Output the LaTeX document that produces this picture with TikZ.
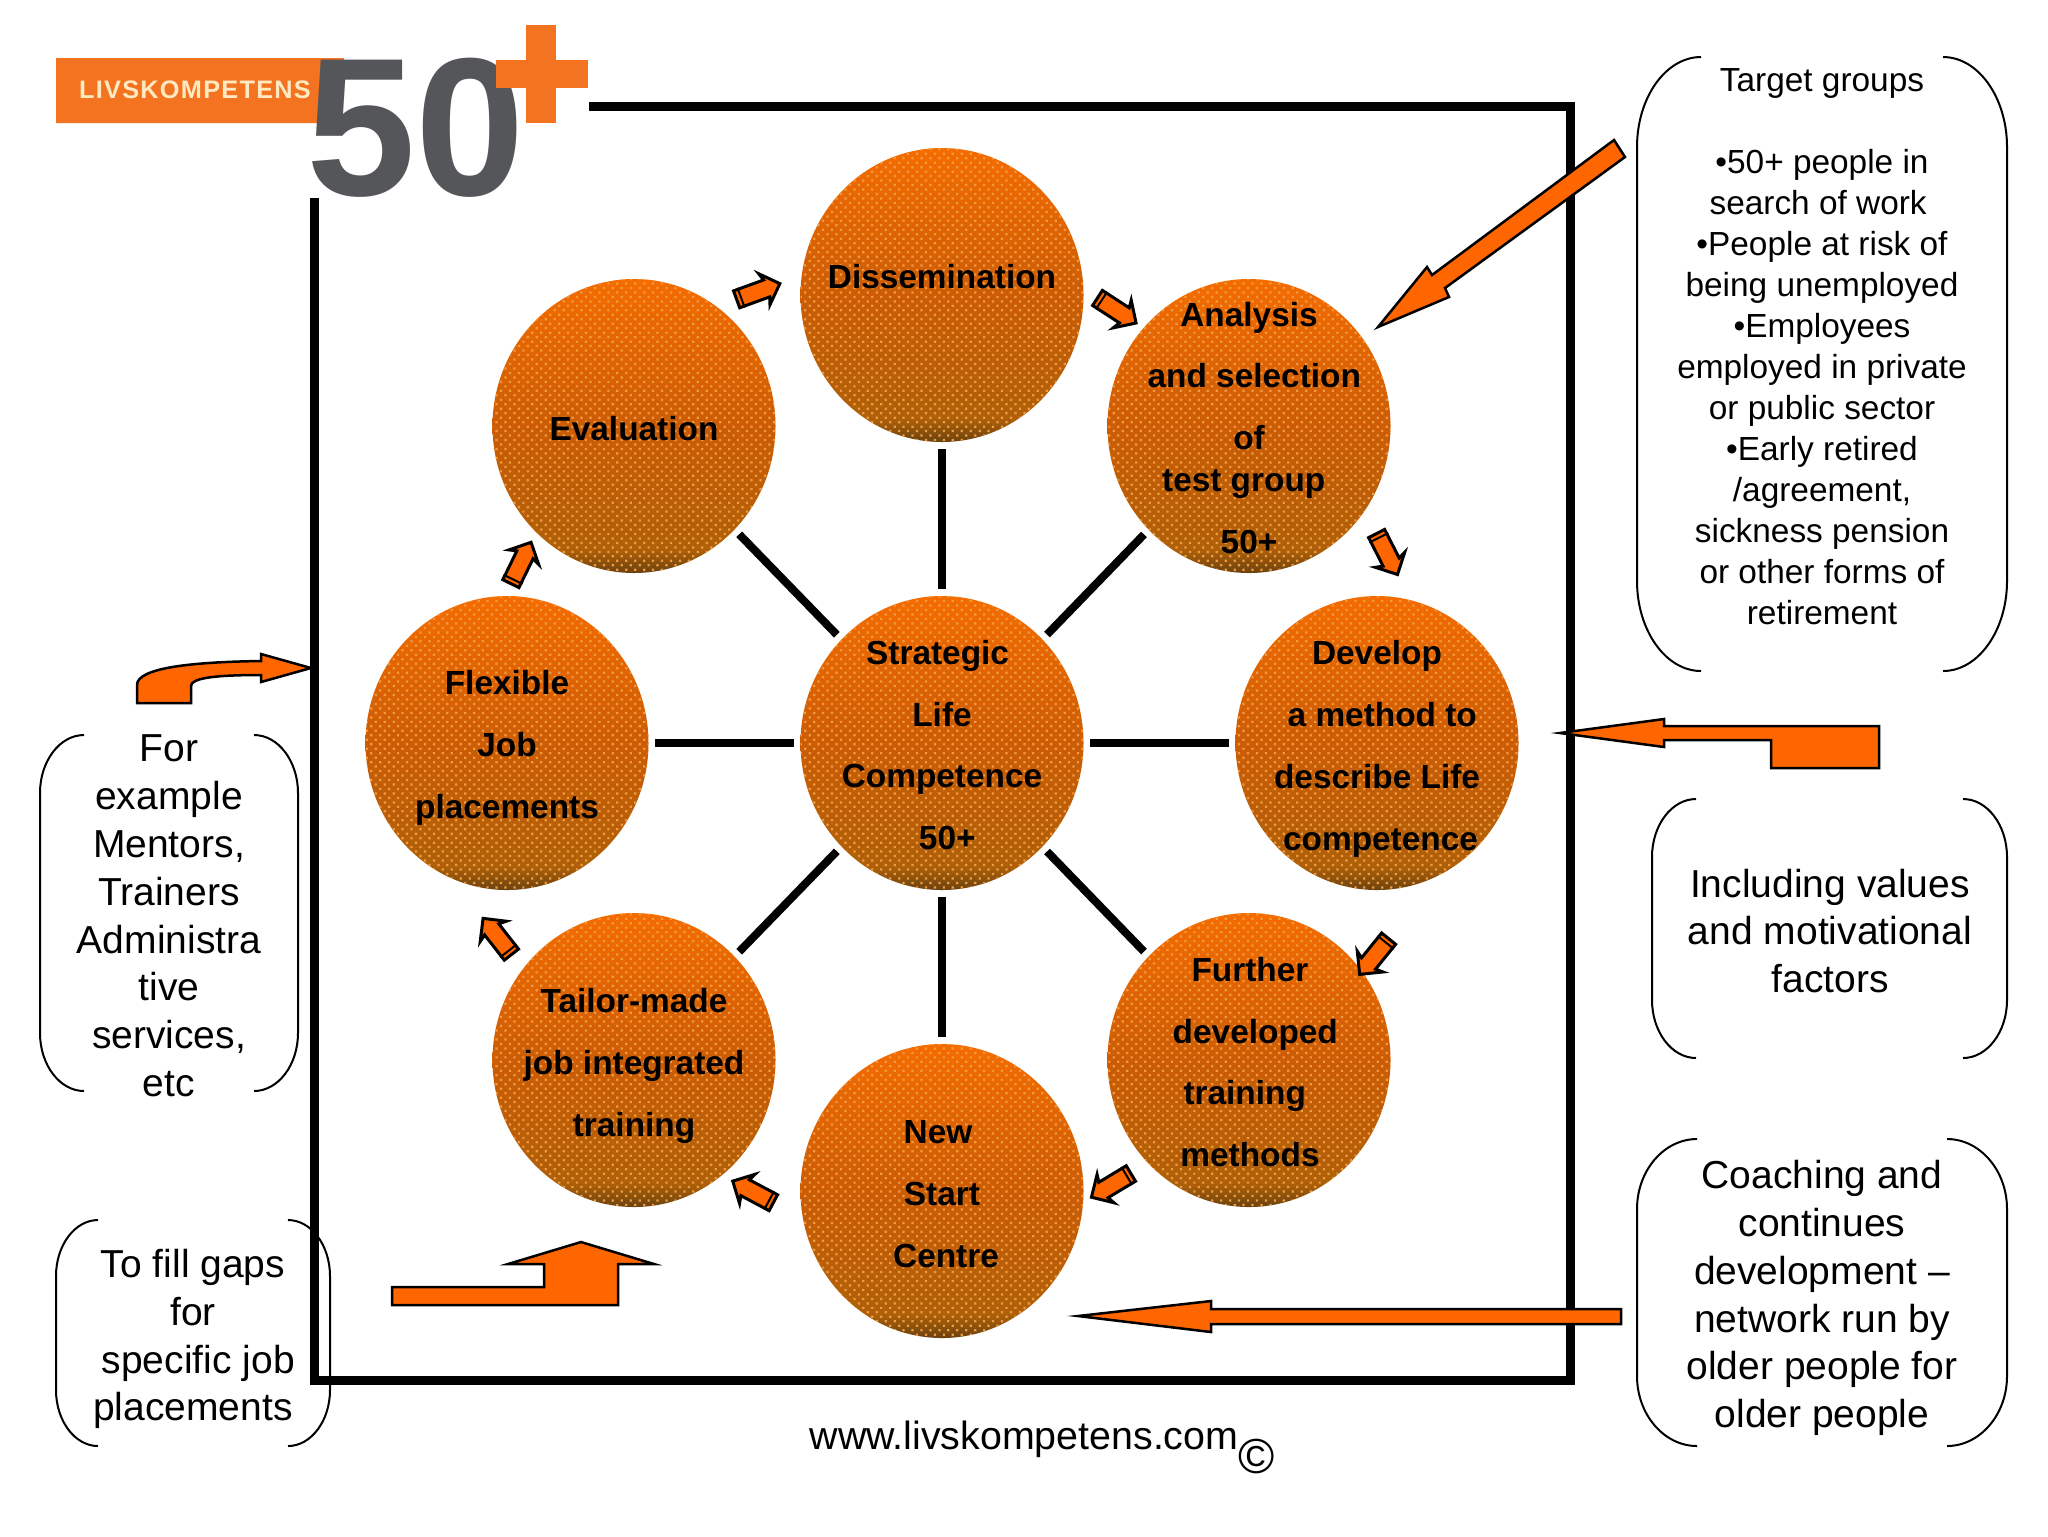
\documentclass[tikz,border=0pt]{standalone}
\usepackage{fontspec}
\setmainfont{Liberation Sans}
\usepackage{xcolor}
\usetikzlibrary{calc, shapes.geometric, shapes.arrows, patterns.meta}

\definecolor{blockorange}{HTML}{FF6600}
\definecolor{logoorange}{HTML}{F47320}
\definecolor{logogrey}{HTML}{55565A}
\definecolor{logocream}{HTML}{FFE9C0}
\definecolor{balltop}{HTML}{F56C00}
\definecolor{ballmid}{HTML}{CC5C05}
\definecolor{balllow}{HTML}{AE6008}
\definecolor{ballrim}{HTML}{6A4210}
\definecolor{balldot}{HTML}{F09A40}

\pgfdeclareverticalshading{ballfade}{100bp}{
    color(0bp)=(ballrim);
    color(25bp)=(ballrim);
    color(29bp)=(balllow);
    color(50bp)=(ballmid);
    color(75bp)=(balltop);
    color(100bp)=(balltop)}

\tikzset{
    ball/.style={ellipse, minimum width=2.83cm, minimum height=2.94cm, inner sep=0pt, shading=ballfade,
        postaction={pattern={Dots[distance=1.8pt, radius=0.45pt, angle=45]}, pattern color=balldot}},
    balltext/.style={align=center, inner sep=0pt, font=\bfseries\fontsize{9.5}{17.6}\selectfont},
    spoke/.style={line width=0.08cm, shorten >=0.06cm, shorten <=0.06cm},
    flowarrow/.style={single arrow, draw=black, fill=blockorange, line width=0.03cm, inner xsep=0pt, inner ysep=0.075cm,
        minimum height=0.46cm, single arrow head extend=0.075cm, single arrow head indent=0.025cm},
    bigarrow/.style={draw=black, fill=blockorange, line width=0.025cm, line join=miter},
    bracket/.style={line width=0.02cm},
    notesmall/.style={align=center, inner sep=0pt, font=\fontsize{9.5}{11.66}\selectfont},
    notelarge/.style={align=center, inner sep=0pt, font=\fontsize{11.1}{13.6}\selectfont}
}

\begin{document}
\begin{tikzpicture}[x=0.1mm, y=-0.1mm]
    \useasboundingbox (0,0) rectangle (2048,1536);

    % Logo
    \fill[logoorange] (56,58) -- (344,58) -- (328,123) -- (56,123) -- cycle;
    \node[text=logocream, inner sep=0pt, font=\bfseries\fontsize{7.2}{8}\selectfont\addfontfeature{LetterSpace=5}] (logoname) at (195,90) {LIVSKOMPETENS};
    \node[text=logogrey, inner sep=0pt, font=\bfseries\fontsize{56}{60}\selectfont] (logofifty) at (416,128) {50};
    \fill[logoorange] (526,25) rectangle (556,123);
    \fill[logoorange] (496,60) rectangle (588,88);

    % Ram
    \draw[line width=0.09cm] (589,106) -- (1570,106) -- (1570,1380) -- (314.5,1380) -- (314.5,198);

    % Cac hinh tron
    \node[ball] (hub) at (942,743) {};
    \node[ball] (dissem) at (942,295) {};
    \node[ball] (analysis) at (1249,426) {};
    \node[ball] (develop) at (1377,743) {};
    \node[ball] (further) at (1249,1060) {};
    \node[ball] (newstart) at (942,1191) {};
    \node[ball] (tailor) at (634,1060) {};
    \node[ball] (flexible) at (507,743) {};
    \node[ball] (evaluation) at (634,426) {};

    % Chu trong hinh tron
    \node[balltext] (hubtext) at (942,745) {Strategic\hspace*{2.5pt}\\Life\\Competence\\\hspace*{3pt}50+};
    \node[balltext] (dissemtext) at (942,277) {Dissemination};
    \node[balltext] (analysistext) at (1249,428) {Analysis\\\hspace*{3pt}and selection\\of\\[-5.6pt]test group\rule{3pt}{0pt}\\50+};
    \node[balltext] (developtext) at (1377,749) {Develop\\\hspace*{3pt}a method to\\describe Life\\\hspace*{2pt}competence};
    \node[balltext] (furthertext) at (1250,1062) {Further\\\hspace*{3pt}developed\\training\rule{3pt}{0pt}\\methods};
    \node[balltext] (newstarttext) at (942,1194) {New\hspace*{2.3pt}\\Start\\\hspace*{2.3pt}Centre};
    \node[balltext] (tailortext) at (634,1066) {Tailor-made\\job integrated\\training};
    \node[balltext] (flexibletext) at (507,748) {Flexible\\Job\\placements};
    \node[balltext] (evaluationtext) at (634,429) {Evaluation};

    % Nan hoa
    \foreach \ballname in {dissem,analysis,develop,further,newstart,tailor,flexible,evaluation} {
        \draw[spoke] (hub) -- (\ballname);
    }

    % Mui ten nho
    \foreach \nm/\cx/\cy/\ang in {fa/754/293/20, fb/1113/308/-33, fc/1385/550/-63, fd/1377/953/231,
        fe/1115/1183/211, ff/757/1194/152, fg/500/940/128, fh/519/567/64} {
        \node[flowarrow, rotate=\ang] (\nm) at (\cx,\cy) {};
        \draw[line width=0.02cm] ($(\nm.before tail)!0.2!(\nm.after head)$) -- ($(\nm.after tail)!0.2!(\nm.before head)$);
    }

    % Mui ten lon
    \draw[bigarrow] (1378,327) -- (1427,267) -- (1432,275) -- (1614,140) -- (1625,157) -- (1445,288) -- (1449,297) -- cycle;
    \draw[bigarrow] (1560,733) -- (1664,719) -- (1664,726) -- (1879,726) -- (1879,768) -- (1771,768) -- (1771,740) -- (1664,740) -- (1664,747) -- cycle;
    \draw[bigarrow] (1078,1316) -- (1211,1301) -- (1211,1309) -- (1621,1309) -- (1621,1324) -- (1211,1324) -- (1211,1332) -- cycle;
    \draw[bigarrow] (581,1242) -- (654,1264) -- (618,1264) -- (618,1305) -- (392,1305) -- (392,1287) -- (544,1287) -- (544,1264) -- (508,1264) -- cycle;
    \draw[bigarrow] (311,668) -- (261,654) -- (261,661) .. controls (190,662) and (137,668) .. (137,685)
        -- (137,703) -- (191,703) -- (191,686) .. controls (191,678) and (215,675) .. (261,675) -- (261,682) -- cycle;

    % Ngoac hai ben
    \foreach \xa/\ya/\xb/\yb/\rx/\ry in {1637/57/2007/671/64/90, 1652/799/2007/1058/44/58, 1637/1139/2007/1446/60/70,
        56/1220/330/1446/42/56, 40/735/298/1091/44/58} {
        \draw[bracket] ({\xa+\rx},\ya) .. controls ({\xa+0.45*\rx},\ya) and (\xa,{\ya+0.45*\ry}) .. (\xa,{\ya+\ry})
            -- (\xa,{\yb-\ry}) .. controls (\xa,{\yb-0.45*\ry}) and ({\xa+0.45*\rx},\yb) .. ({\xa+\rx},\yb);
        \draw[bracket] ({\xb-\rx},\ya) .. controls ({\xb-0.45*\rx},\ya) and (\xb,{\ya+0.45*\ry}) .. (\xb,{\ya+\ry})
            -- (\xb,{\yb-\ry}) .. controls (\xb,{\yb-0.45*\ry}) and ({\xb-0.45*\rx},\yb) .. ({\xb-\rx},\yb);
    }

    % Chu ngoai
    \node[notesmall] (targetnote) at (1822,347) {Target groups\\[11.66pt]•50+ people in\\search of work\rule{2.2pt}{0pt}\\•People at risk of\\being unemployed\\•Employees\\employed in private\\or public sector\\•Early retired\\/agreement,\\sickness pension\\or other forms of\\retirement};
    \node[notelarge] (valuesnote) at (1830,931) {Including values\\and motivational\\factors};
    \node[notelarge] (coachnote) at (1822,1298) {Coaching and\\continues\\development –\\network run by\\older people for\\older people};
    \node[notelarge] (gapsnote) at (193,1339) {To fill gaps\\for\\\hspace*{3pt}specific job\\placements};
    \node[notelarge] (mentornote) at (169,916) {For\\example\\Mentors,\\Trainers\\Administra\\tive\\services,\\etc};
    \node[inner sep=0pt, font=\fontsize{11.2}{13}\selectfont] (website) at (1024,1439) {www.livskompetens.com};
    \node[inner sep=0pt, font=\fontsize{14}{16}\selectfont] (copyright) at (1257,1456) {©};
\end{tikzpicture}
\end{document}
